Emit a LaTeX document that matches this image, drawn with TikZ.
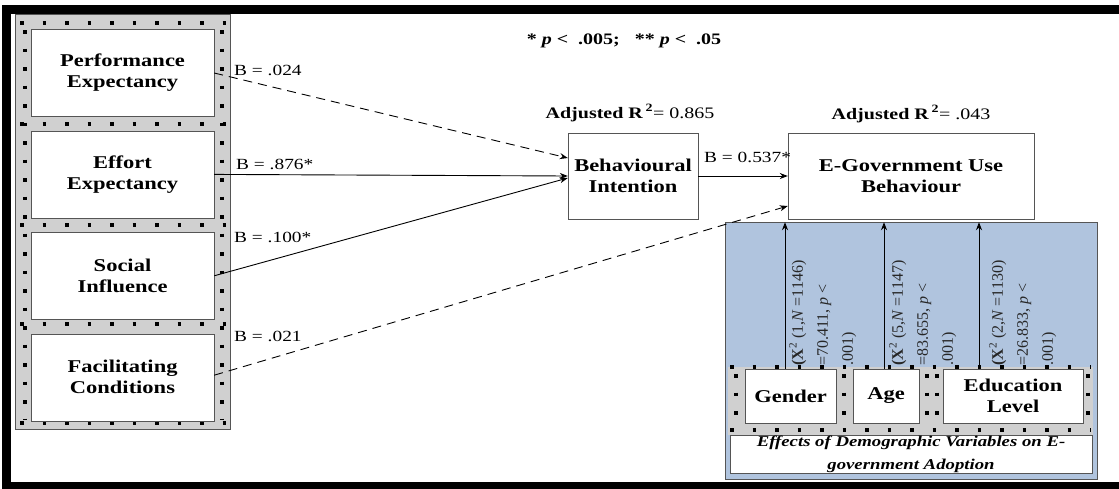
\documentclass[tikz,border=0pt]{standalone}
\usepackage{fontspec}
\setmainfont{Liberation Serif}[FakeStretch=1.25]
\newfontfamily\chifont{Liberation Serif}
\usetikzlibrary{arrows.meta,positioning}

\definecolor{panelblue}{RGB}{176,196,222}
\definecolor{bandgray}{RGB}{208,208,208}
\definecolor{edgegray}{RGB}{85,85,85}

\begin{document}
\begin{tikzpicture}[x=1pt, y=-1pt,
    factor node/.style={draw=edgegray, fill=white, minimum width=183pt, minimum height=87pt, inner sep=0pt, align=center, font=\fontsize{18}{21}\selectfont\bfseries},
    outcome node/.style={draw=edgegray, fill=white, minimum height=86pt, inner sep=0pt, align=center, font=\fontsize{18}{21}\selectfont\bfseries},
    demo node/.style={draw=edgegray, fill=white, minimum height=54pt, inner sep=0pt, align=center, font=\fontsize{18}{21}\selectfont\bfseries},
    coef/.style={anchor=west, inner sep=0pt, font=\fontsize{15.5}{17}\selectfont},
    chi label/.style={rotate=90, anchor=north west, inner sep=0pt, align=left, text=black!85, font=\chifont\fontsize{16}{25}\selectfont},
    link/.style={-{Stealth[length=8pt,width=6pt]}, line width=0.9pt},
    weak link/.style={link, dash pattern=on 9pt off 6pt},
    dotrow/.style={line width=3.5pt, dash pattern=on 3.5pt off 19pt},
    dotcol/.style={line width=3.5pt, dash pattern=on 3.5pt off 15pt}]

    \useasboundingbox (0,0) rectangle (1119,488);
    \draw[line width=9pt] (1130,9) -- (6,9) -- (6,486) -- (1130,486);

    % left column of predictors
    \fill[bandgray, draw=edgegray, line width=0.6pt] (15,14) rectangle (230,429);
    \foreach \y in {23,124,225,324,423}
        \draw[dotrow] (20,\y) -- (228,\y);
    \foreach \x in {25,222}
        \draw[dotcol] (\x,30) -- (\x,420);

    \node[factor node] (pe) at (122.5,73) {Performance\\Expectancy};
    \node[factor node] (ee) [below=14pt of pe] {Effort\\Expectancy};
    \node[factor node] (si) [below=14pt of ee] {Social\\Influence};
    \node[factor node] (fc) [below=14pt of si] {Facilitating\\Conditions};

    \node[outcome node, minimum width=130pt] (bi) at (633,176) {Behavioural\\Intention};
    \node[outcome node, minimum width=246pt] (egu) at (911,176) {E-Government Use\\Behaviour};

    \node[font=\fontsize{16}{18}\selectfont\bfseries] (sig) at (624,41) {* \textit{p} <\ \ .005;\ \ \ ** \textit{p} <\ \ .05};
    \node[font=\fontsize{16}{18}\selectfont] (r2bi) at (630,113) {\textbf{Adjusted R\,\textsuperscript{2}}= 0.865};
    \node[font=\fontsize{16}{18}\selectfont] (r2egu) at (911,114) {\textbf{Adjusted R\,\textsuperscript{2}}= .043};

    % demographic panel
    \fill[panelblue, draw=edgegray, line width=0.6pt] (725,222) rectangle (1097,479);
    \fill[bandgray] (728,367) rectangle (1093,435);
    \foreach \y in {367,430}
        \draw[dotrow] (730,\y) -- (1091,\y);
    \foreach \x in {736,844,927,937,1088}
        \draw[dotcol] (\x,374) -- (\x,428);

    \node[demo node, minimum width=91pt] (gender) at (790.5,396) {Gender};
    \node[demo node, minimum width=66pt] (age) at (886,396) {Age};
    \node[demo node, minimum width=140pt] (edu) at (1013,396) {Education\\Level};
    \node[draw=edgegray, fill=white, minimum width=362pt, minimum height=38pt, inner sep=0pt, align=center, font=\fontsize{15}{23}\selectfont\bfseries\itshape] (cap) at (911,454) {Effects of Demographic Variables on E-\\government Adoption};

    \node[chi label] (gchi) at (789,366) {\textbf{(X}\textsuperscript{2} (1,\textit{N} =1146)\\=70.411, \textit{p} <\\.001)};
    \node[chi label] (achi) at (889,366) {\textbf{(X}\textsuperscript{2} (5,\textit{N} =1147)\\=83.655, \textit{p} <\\.001)};
    \node[chi label] (echi) at (989,366) {\textbf{(X}\textsuperscript{2} (2,\textit{N} =1130)\\=26.833, \textit{p} <\\.001)};

    % paths
    \draw[weak link] (pe.east) -- ([yshift=18pt]bi.west);
    \draw[link] (ee.east) -- (bi.west);
    \draw[link] (si.east) -- ([yshift=-2pt]bi.west);
    \draw[weak link] ([yshift=2pt]fc.east) -- ([yshift=-30pt]egu.west);
    \draw[link] (bi) -- (egu);
    \draw[link] ([xshift=-5.5pt]gender.north) -- ([xshift=-5.5pt,yshift=-3pt]gender.north |- egu.south);
    \draw[link] ([xshift=-2pt]age.north) -- ([xshift=-2pt,yshift=-3pt]age.north |- egu.south);
    \draw[link] ([xshift=-34pt]edu.north) -- ([xshift=-34pt,yshift=-3pt]edu.north |- egu.south);

    \node[coef] (bpe) at (234,70) {B = .024};
    \node[coef] (bee) at (236,164) {B = .876*};
    \node[coef] (bsi) at (234,237) {B = .100*};
    \node[coef] (bfc) at (234,336) {B = .021};
    \node[coef] (bbi) at (704,157) {B = 0.537*};

\end{tikzpicture}
\end{document}
